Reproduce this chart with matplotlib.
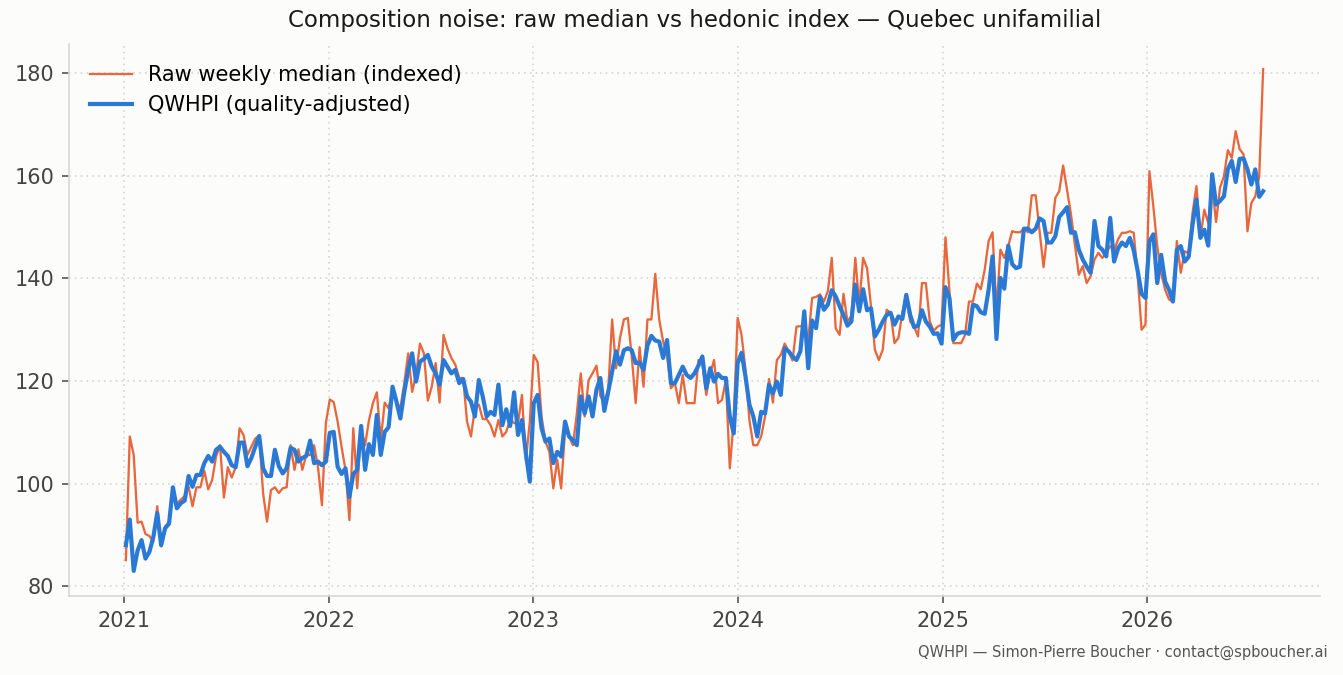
import matplotlib
matplotlib.use("Agg")
import matplotlib.pyplot as plt
import matplotlib.dates as mdates
import pandas as pd

start_date = "2021-01-04"

raw_median = [
    85.1, 109.2, 105.6, 92.4, 92.6, 90.2, 89.8, 88.7, 95.6, 87.8,
    91.6, 92.6, 98.1, 96.1, 96.9, 97.6, 99.4, 95.6, 99.3, 99.3,
    102.5, 98.9, 100.7, 105.3, 107.5, 97.3, 103.2, 101.2, 103.2, 110.8,
    109.5, 105.6, 107.2, 108.8, 109.3, 98.1, 92.6, 98.75, 99.3, 98.2,
    99.1, 99.3, 107.5, 102.7, 106.7, 102.7, 105.6, 105.6, 107.5, 103.2,
    95.8, 111.8, 116.4, 115.9, 112.1, 107.2, 102.7, 92.9, 110.8, 99.1,
    110.5, 107.5, 112.4, 115.7, 117.8, 108.5, 115.8, 114.7, 118.3, 116.0,
    114.7, 119.6, 125.4, 117.9, 121.2, 127.3, 125.4, 116.2, 118.9, 123.5,
    115.8, 129.0, 126.4, 124.5, 123.2, 120.6, 120.6, 112.1, 109.2, 114.7,
    115.4, 112.6, 112.6, 111.4, 109.2, 112.4, 109.2, 110.1, 112.6, 111.8,
    111.8, 117.3, 104.6, 112.0, 125.1, 123.7, 113.1, 108.2, 106.2, 99.1,
    104.6, 99.1, 110.5, 109.2, 107.5, 113.7, 121.5, 113.1, 120.2, 121.5,
    123.0, 117.1, 115.7, 118.3, 132.0, 122.5, 128.4, 132.0, 132.3, 124.8,
    115.7, 126.6, 118.9, 132.0, 132.0, 140.9, 132.0, 127.7, 124.8, 118.6,
    119.6, 115.7, 121.2, 115.7, 115.7, 115.7, 124.1, 123.5, 117.3, 121.5,
    124.1, 115.7, 116.3, 120.2, 103.0, 112.4, 132.3, 129.0, 122.2, 112.4,
    107.5, 107.5, 109.2, 113.1, 120.4, 115.8, 124.1, 125.1, 127.3, 125.8,
    124.0, 130.6, 130.7, 130.5, 128.0, 136.2, 136.4, 136.9, 135.5, 137.5,
    144.0, 130.3, 129.0, 137.0, 131.6, 132.7, 144.0, 135.0, 144.0, 142.0,
    134.6, 126.1, 124.1, 126.1, 133.9, 133.3, 127.4, 128.4, 133.3, 136.2,
    131.6, 130.6, 128.7, 139.1, 139.1, 131.6, 129.8, 130.6, 131.0, 148.0,
    137.8, 127.4, 127.4, 127.4, 129.0, 135.5, 135.5, 139.0, 137.9, 141.7,
    147.3, 149.0, 133.5, 145.6, 144.0, 146.3, 149.2, 149.0, 149.0, 149.7,
    149.0, 156.2, 156.2, 149.2, 142.2, 148.9, 148.9, 155.7, 157.0, 162.0,
    157.3, 152.5, 146.6, 140.7, 142.4, 139.1, 140.4, 143.7, 145.0, 144.0,
    145.0, 146.3, 145.3, 147.6, 148.9, 148.9, 149.2, 148.9, 140.5, 130.0,
    131.0, 160.9, 154.1, 146.3, 141.1, 137.8, 135.9, 135.5, 147.3, 141.1,
    145.3, 144.9, 152.8, 158.0, 147.9, 153.4, 150.8, 158.0, 151.0, 157.7,
    159.9, 165.0, 163.5, 168.7, 165.2, 164.2, 149.2, 154.7, 156.0, 159.9,
    180.8,
]

qwhpi = [
    88.0, 93.0, 83.0, 87.0, 89.0, 85.4, 86.7, 89.6, 94.3, 88.0,
    91.3, 92.2, 99.3, 95.2, 96.2, 96.7, 101.5, 99.4, 101.7, 101.7,
    104.0, 105.4, 104.3, 106.6, 107.2, 106.2, 105.4, 103.6, 103.2, 108.0,
    108.0, 103.4, 105.0, 107.2, 109.3, 103.0, 101.5, 101.5, 106.6, 103.4,
    102.0, 103.0, 107.0, 106.6, 104.3, 105.0, 105.4, 108.4, 104.0, 104.3,
    103.6, 104.3, 109.9, 110.1, 103.3, 101.9, 103.0, 97.4, 101.9, 102.7,
    111.25, 102.7, 107.7, 105.6, 113.4, 105.6, 110.1, 111.0, 118.9, 116.0,
    112.7, 117.9, 122.2, 125.4, 119.9, 123.8, 124.3, 125.1, 122.8, 121.5,
    119.3, 124.1, 122.8, 121.5, 122.2, 119.6, 120.4, 117.0, 116.0, 113.1,
    120.2, 117.0, 113.1, 114.0, 113.4, 119.3, 111.4, 114.5, 111.25, 117.8,
    109.5, 112.4, 105.9, 100.4, 115.7, 117.3, 110.8, 108.2, 108.8, 104.0,
    106.2, 105.3, 112.1, 109.2, 108.5, 107.5, 117.0, 113.7, 117.0, 113.1,
    118.3, 120.6, 114.2, 117.9, 121.9, 125.8, 123.2, 126.0, 126.4, 126.0,
    123.5, 123.6, 122.2, 126.9, 128.8, 127.9, 127.7, 124.5, 128.0, 119.6,
    119.6, 121.2, 122.8, 121.2, 120.6, 121.5, 123.0, 124.8, 118.6, 122.5,
    119.9, 121.4, 120.6, 120.6, 113.1, 109.8, 123.5, 125.5, 120.9, 115.4,
    113.1, 109.2, 114.0, 113.7, 119.3, 117.6, 119.9, 117.3, 126.4, 125.8,
    124.8, 124.1, 125.8, 133.6, 122.5, 131.8, 130.3, 136.4, 133.9, 134.9,
    137.7, 136.5, 134.6, 132.9, 130.8, 131.6, 138.8, 133.6, 137.9, 133.8,
    134.2, 128.7, 130.0, 131.6, 132.9, 133.3, 131.0, 132.6, 132.1, 136.8,
    132.9, 130.5, 130.8, 133.8, 131.6, 130.6, 129.2, 129.3, 127.3, 138.3,
    136.2, 128.0, 129.2, 129.5, 129.5, 129.2, 134.9, 134.6, 133.4, 133.1,
    137.8, 144.3, 128.2, 140.1, 138.0, 146.4, 142.8, 142.0, 142.3, 149.7,
    149.7, 149.0, 149.7, 151.7, 151.2, 147.0, 147.0, 148.2, 152.0, 152.9,
    153.9, 148.9, 149.0, 145.6, 143.7, 142.3, 141.1, 151.2, 146.3, 145.6,
    144.3, 151.8, 143.3, 145.8, 147.0, 146.3, 147.9, 145.5, 141.5, 137.0,
    136.2, 147.2, 148.6, 139.1, 144.6, 139.4, 137.8, 135.5, 145.6, 146.3,
    143.3, 144.2, 150.5, 155.4, 147.9, 149.5, 146.4, 160.3, 154.4, 155.1,
    156.0, 161.25, 162.9, 158.8, 163.3, 163.4, 161.25, 158.3, 161.25, 155.9,
    157.0,
]

dates = pd.date_range(start_date, periods=len(raw_median), freq="7D")

title_text = "Composition noise: raw median vs hedonic index \u2014 Quebec unifamilial"
raw_label = "Raw weekly median (indexed)"
qwhpi_label = "QWHPI (quality-adjusted)"
footer_text = "QWHPI \u2014 Simon-Pierre Boucher \u00b7 contact@spboucher.ai"
y_ticks = [80, 100, 120, 140, 160, 180]

bg = "#fcfcfa"
orange = "#e8673c"
blue = "#2a7ad5"

fig = plt.figure(figsize=(1343 / 150, 675 / 150), dpi=150, facecolor=bg)
ax = fig.add_axes([69 / 1343, 1 - 596 / 675, (1320 - 69) / 1343, (596 - 44) / 675])
ax.set_facecolor(bg)

ax.plot(dates, raw_median, color=orange, lw=1.1, label=raw_label, zorder=3)
ax.plot(dates, qwhpi, color=blue, lw=2.0, label=qwhpi_label, zorder=4)

ax.set_yticks(y_ticks)
ax.xaxis.set_major_locator(mdates.YearLocator())
ax.xaxis.set_major_formatter(mdates.DateFormatter("%Y"))

ax.grid(True, linestyle=(0, (1, 2.5)), color="#d4d4d4", lw=0.8, zorder=0)
for s in ("top", "right"):
    ax.spines[s].set_visible(False)
for s in ("left", "bottom"):
    ax.spines[s].set_color("#d8d8d2")
    ax.spines[s].set_linewidth(0.8)
ax.tick_params(axis="both", length=3.5, width=0.8, color="#555555",
               labelsize=10, labelcolor="#444444", pad=3.5)

ax.set_title(title_text, fontsize=11, color="#1a1a1a", pad=8)
leg = ax.legend(loc="upper left", frameon=False, fontsize=10, handlelength=2.0,
                borderaxespad=0.6)

fig.text(1328 / 1343, 1 - 652 / 675, footer_text, ha="right", va="center",
         fontsize=7, color="#555555")

fig.savefig("out.png", dpi=150, facecolor=bg)
